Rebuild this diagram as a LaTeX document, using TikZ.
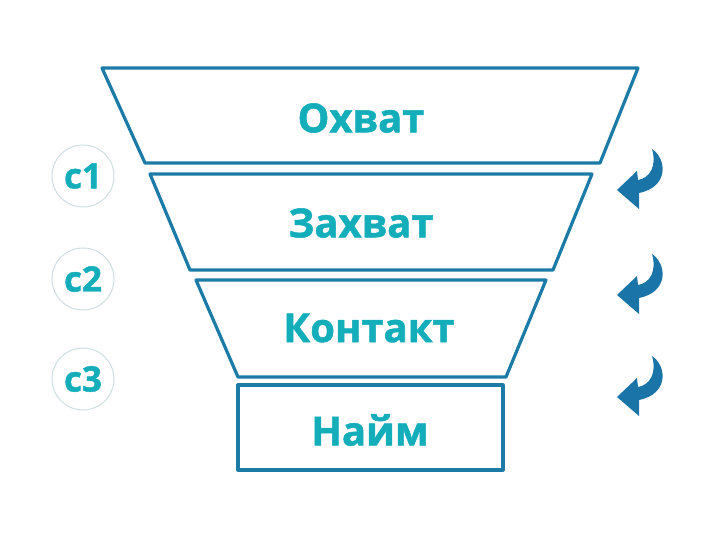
\documentclass[tikz,border=0pt]{standalone}
\usepackage{fontspec}
\setmainfont{Open Sans}[BoldFeatures={FakeBold=1.3}]
\definecolor{tealtxt}{HTML}{14AEBB}
\definecolor{border}{HTML}{1B7BA6}
\definecolor{arrowblue}{HTML}{1A74A8}
\definecolor{ringgray}{HTML}{CFDEE2}
\begin{document}
\begin{tikzpicture}[x=1pt,y=-1pt,
  stage/.style={draw=border,line width=3.2pt,line join=round},
  label/.style={text=tealtxt,font=\fontsize{40}{42}\selectfont\bfseries},
  ring/.style={circle,draw=ringgray,line width=1pt,minimum size=62pt,inner sep=0pt,
    text=tealtxt,font=\fontsize{35}{37}\selectfont\bfseries},
  curlarrow/.style={fill=arrowblue}]
\useasboundingbox (0,0) rectangle (710,534);
\fill[white] (0,0) rectangle (710,534);
% funnel stages
\draw[stage] (102,68) -- (638,68) -- (600,163) -- (145,163) -- cycle;
\draw[stage] (150,174) -- (592,174) -- (553,270) -- (190,270) -- cycle;
\draw[stage] (196,280) -- (546,280) -- (506,377) -- (238,377) -- cycle;
\draw[stage] (238,385) rectangle (503,470);
% labels
\node[label] (l1) at (361,118) {Охват};
\node[label] (l2) at (361,223) {Захват};
\node[label] (l3) at (369,328) {Контакт};
\node[label] (l4) at (370,430) {Найм};
% circles
\node[ring] (c1) at (83,176) {c1};
\node[ring] (c2) at (83,279) {c2};
\node[ring] (c3) at (83,379) {c3};
% curled arrows
\foreach \dy in {0,105,207}{
  \begin{scope}[yshift=-\dy pt]
  \fill[curlarrow] (617,190) -- (637,171) -- (638,180)
    .. controls (650,178) and (657,166) .. (652,149)
    .. controls (667,159) and (669,187) .. (639,193)
    -- (639,209) -- cycle;
  \end{scope}
}
\end{tikzpicture}
\end{document}
